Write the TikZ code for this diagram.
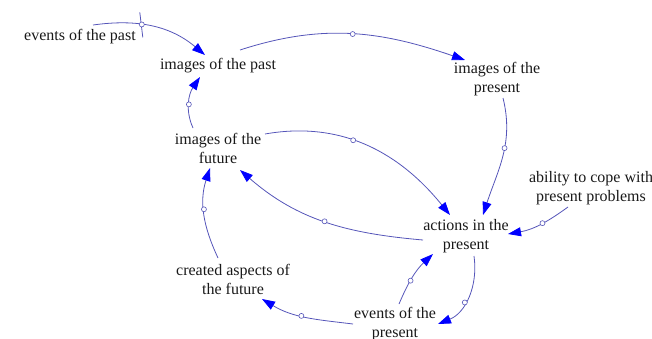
\documentclass[tikz,border=0pt]{standalone}
\usepackage{fontspec}
\setmainfont{Liberation Serif}
\usetikzlibrary{arrows.meta,calc}
\definecolor{linkc}{RGB}{85,85,185}
\definecolor{tipc}{RGB}{0,0,255}
\definecolor{txtc}{RGB}{25,25,25}
\begin{document}
\begin{tikzpicture}[x=1pt,y=1pt,
  lbl/.style={align=center,font=\fontsize{16}{19}\selectfont,text=txtc,inner sep=0pt},
  link/.style={draw=linkc,line width=0.8pt,-{Triangle[length=13pt,width=9pt,color=tipc]}},
  valve/.style={circle,draw=linkc,fill=white,inner sep=0pt,minimum size=5pt,line width=0.6pt}]
\useasboundingbox (0,0) rectangle (652,-338);
\node[lbl] (ep)  at (80,-37)  {events of the past};
\node[lbl] (ip)  at (218,-66) {images of the past};
\node[lbl] (ipr) at (497,-79) {images of the\\present};
\node[lbl] (if)  at (218,-148) {images of the\\future};
\node[lbl] (ab)  at (591,-188) {ability to cope with\\present problems};
\node[lbl] (ac)  at (466,-236) {actions in the\\present};
\node[lbl] (ca)  at (233,-279) {created aspects of\\the future};
\node[lbl] (epr) at (395,-324) {events of the\\present};
% 1
\draw[link] ($(ep)+(13,12)$) to[out=8,in=140] coordinate[pos=0.4] (cm) ($(ip)+(-13,11)$);
\draw[linkc,line width=0.8pt] ($(cm)+(-2,12)$) -- ($(cm)+(1,-13)$);
\node[valve] (v1) at (cm) {};
% 2
\draw[link] ($(ip)+(22,16)$) to[out=18,in=161] node[valve,pos=0.5] (v2) {} ($(ipr)+(-32,19)$);
% 3
\draw[link] ($(ipr)+(6,-19)$) to[out=-76,in=72] node[valve,pos=0.42] (v3) {} ($(ac)+(17,21)$);
% 4
\draw[link] ($(if)+(47,14)$) to[out=10,in=129] node[valve,pos=0.42] (v4) {} ($(ac)+(-16,21)$);
% 5
\draw[link] ($(ac)+(-43,-4)$) to[out=175,in=-41] node[valve,pos=0.5] (v5) {} ($(if)+(22,-22)$);
% 6
\draw[link] ($(if)+(-25,20)$) to[out=114,in=-124] node[valve,pos=0.45] (v6) {} ($(ip)+(-18,-11)$);
% 7
\draw[link] ($(ca)+(-15,21)$) to[out=115,in=-108] node[valve,pos=0.55] (v7) {} ($(if)+(-8,-20)$);
% 8
\draw[link] ($(epr)+(-42,0)$) to[out=173,in=-31] node[valve,pos=0.55] (v8) {} ($(ca)+(29,-20)$);
% 9
\draw[link] ($(epr)+(4,20)$) to[out=67,in=-137] node[valve,pos=0.42] (v9) {} ($(ac)+(-33,-18)$);
% 10
\draw[link] ($(ac)+(8,-20)$) to[out=-82,in=22] node[valve,pos=0.58] (v10) {} ($(epr)+(43,0)$);
% 11
\draw[link] ($(ab)+(-23,-19)$) to[out=-144,in=10] node[valve,pos=0.45] (v11) {} ($(ac)+(42,2)$);
\end{tikzpicture}
\end{document}
